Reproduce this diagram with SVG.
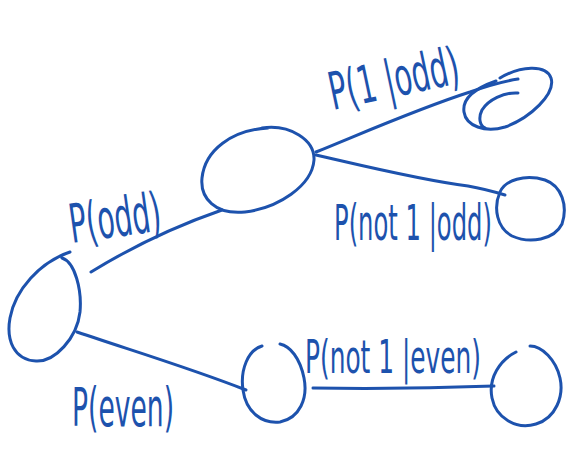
<svg xmlns="http://www.w3.org/2000/svg" width="570" height="458" viewBox="0 0 570 458">
  <style>
    .ink { fill: none; stroke: #1d52ad; stroke-width: 3; stroke-linecap: round; stroke-linejoin: round; }
    .lbl { fill: #1d52ad; font-family: "DejaVu Sans Condensed", "Liberation Sans", sans-serif; font-weight: 300; }
  </style>
  <rect width="570" height="458" fill="#ffffff"/>

  <!-- branches -->
  <g id="connectors">
    <path class="ink" d="M91,272 C130,248 170,228 222,210"/>
    <path class="ink" d="M77,332 C130,350 190,368 246,390"/>
    <path class="ink" d="M316,152 C370,130 420,108 470,92 C490,85 505,81 518,79"/>
    <path class="ink" d="M316,155 C360,165 420,180 468,186 C485,189 495,192 505,195"/>
    <path class="ink" d="M313,388 C380,389 440,388 494,386"/>
  </g>

  <!-- root -->
  <g id="node-root">
    <path class="ink" d="M62,258 C75,262 82,290 80,312 C77,338 55,362 36,361 C14,360 6,340 10,318 C15,290 40,262 70,252"/>
  </g>

  <!-- odd -->
  <g id="node-odd">
    <path class="ink" d="M262,128 C290,124 315,140 314,160 C312,186 278,208 245,212 C215,215 200,198 202,178 C205,150 232,130 268,128"/>
  </g>

  <!-- outcome 1 given odd -->
  <g id="node-one-odd">
    <path class="ink" d="M500,78 C520,66 546,64 551,78 C556,94 530,118 505,127 C485,133 466,126 464,112 C462,98 476,88 496,81"/>
    <path class="ink" d="M518,93 C504,92 488,100 482,110 C478,118 480,126 485,128"/>
  </g>

  <!-- not 1 given odd -->
  <g id="node-not-one-odd">
    <path class="ink" d="M500,192 C505,180 525,174 545,180 C562,186 568,206 562,224 C554,240 530,244 512,236 C497,228 493,208 500,192"/>
  </g>

  <!-- even -->
  <g id="node-even">
    <path class="ink" d="M262,346 C248,350 240,370 243,390 C246,412 262,424 280,422 C300,418 308,398 304,378 C300,358 290,346 280,344"/>
  </g>

  <!-- not 1 given even -->
  <g id="node-not-one-even">
    <path class="ink" d="M516,352 C500,360 488,378 492,398 C496,418 516,430 536,424 C556,418 564,396 560,378 C556,360 542,346 530,346"/>
  </g>

  <!-- labels -->
  <text class="lbl" font-size="54" textLength="92" lengthAdjust="spacingAndGlyphs" transform="translate(72,243) rotate(-8)">P(odd)</text>
  <text class="lbl" font-size="54" textLength="102" lengthAdjust="spacingAndGlyphs" transform="translate(72,426)">P(even)</text>
  <text class="lbl" font-size="52" textLength="132" lengthAdjust="spacingAndGlyphs" transform="translate(333,110) rotate(-12)">P(1 |odd)</text>
  <text class="lbl" font-size="50" textLength="158" lengthAdjust="spacingAndGlyphs" transform="translate(334,240)">P(not 1 |odd)</text>
  <text class="lbl" font-size="46" textLength="176" lengthAdjust="spacingAndGlyphs" transform="translate(305,373)">P(not 1 |even)</text>
</svg>
